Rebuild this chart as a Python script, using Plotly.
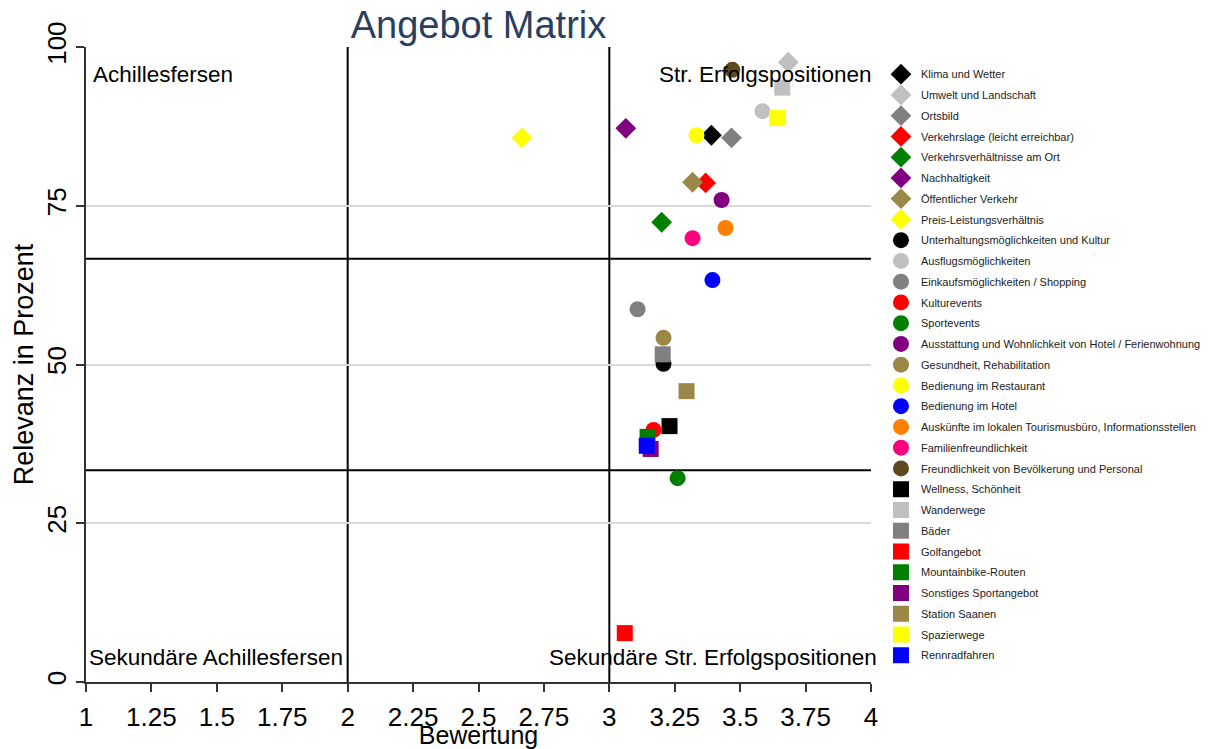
import plotly.graph_objects as go

names = [
    "Klima und Wetter", "Umwelt und Landschaft", "Ortsbild", "Verkehrslage (leicht erreichbar)",
    "Verkehrsverhältnisse am Ort", "Nachhaltigkeit", "Öffentlicher Verkehr", "Preis-Leistungsverhältnis",
    "Unterhaltungsmöglichkeiten und Kultur", "Ausflugsmöglichkeiten", "Einkaufsmöglichkeiten / Shopping",
    "Kulturevents", "Sportevents", "Ausstattung und Wohnlichkeit von Hotel / Ferienwohnung",
    "Gesundheit, Rehabilitation", "Bedienung im Restaurant", "Bedienung im Hotel",
    "Auskünfte im lokalen Tourismusbüro, Informationsstellen", "Familienfreundlichkeit",
    "Freundlichkeit von Bevölkerung und Personal", "Wellness, Schönheit", "Wanderwege", "Bäder",
    "Golfangebot", "Mountainbike-Routen", "Sonstiges Sportangebot", "Station Saanen", "Spazierwege",
    "Rennradfahren",
]
bewertung = [
    3.39, 3.684, 3.467, 3.368, 3.20, 3.063, 3.318, 2.666,
    3.207, 3.585, 3.108, 3.169, 3.261, 3.429, 3.207, 3.333, 3.394, 3.444, 3.318, 3.470,
    3.230, 3.661, 3.204, 3.059, 3.146, 3.158, 3.295, 3.642, 3.143,
]
relevanz = [
    86.1, 97.6, 85.7, 78.6, 72.4, 87.2, 78.7, 85.7,
    50.1, 89.9, 58.7, 39.7, 32.1, 75.9, 54.2, 86.1, 63.3, 71.5, 69.9, 96.4,
    40.3, 93.6, 51.6, 7.7, 38.6, 36.7, 45.8, 88.8, 37.2,
]
symbols = ["diamond"] * 8 + ["circle"] * 12 + ["square"] * 9
colors = [
    "#000000", "#c0c0c0", "#808080", "#ff0000", "#008000", "#800080", "#9b8747", "#ffff00",
    "#000000", "#c0c0c0", "#808080", "#ff0000", "#008000", "#800080", "#9b8747", "#ffff00",
    "#0000ff", "#ff7f00", "#ff007f", "#5a4a1e",
    "#000000", "#c0c0c0", "#808080", "#ff0000", "#008000", "#800080", "#9b8747", "#ffff00",
    "#0000ff",
]

x_ticks = [1, 1.25, 1.5, 1.75, 2, 2.25, 2.5, 2.75, 3, 3.25, 3.5, 3.75, 4]
y_ticks = [0, 25, 50, 75, 100]
x_split = [2, 3]
y_split = [100 / 3, 200 / 3]
# (text, x (paper), y (data), anchor)
quadrants = [
    ("Achillesfersen", 0.007, 95.7, "left"),
    ("Str. Erfolgspositionen", 1.004, 95.7, "right"),
    ("Sekundäre Achillesfersen", 0.001, 3.9, "left"),
    ("Sekundäre Str. Erfolgspositionen", 1.01, 3.9, "right"),
]

FONT = "Liberation Sans, Arial, sans-serif"

fig = go.Figure()
for i, n in enumerate(names):
    fig.add_trace(go.Scatter(
        x=[bewertung[i]], y=[relevanz[i]], mode="markers", name=n, legendgroup=n,
        marker=dict(symbol=symbols[i], size=16, color=colors[i], line=dict(width=0)),
    ))

for xv in x_split:
    fig.add_shape(type="line", x0=xv, x1=xv, y0=0, y1=100, xref="x", yref="y",
                  line=dict(color="black", width=2), layer="below")
for yv in y_split:
    fig.add_shape(type="line", x0=1, x1=4, y0=yv, y1=yv, xref="x", yref="y",
                  line=dict(color="black", width=2), layer="below")

for txt, xv, yv, anc in quadrants:
    fig.add_annotation(x=xv, y=yv, xref="paper", yref="y", text=txt, showarrow=False,
                       xanchor=anc, yanchor="middle",
                       font=dict(family=FONT, size=22.5, color="black"))

fig.update_layout(
    width=1210, height=741,
    margin=dict(l=78, r=343, t=39, b=67),
    paper_bgcolor="white", plot_bgcolor="white",
    font=dict(family=FONT, color="#2a3f5f"),
    title=dict(text="Angebot Matrix", x=0.5, xref="paper", y=0.977, yref="container",
               yanchor="middle", font=dict(family=FONT, size=38, color="#2a3f5f")),
    showlegend=True,
    legend=dict(x=1.0127, xanchor="left", y=0.98, yanchor="top", tracegroupgap=1.75,
                font=dict(family=FONT, size=11, color="#222222"), itemsizing="trace",
                bgcolor="rgba(0,0,0,0)"),
)
fig.update_xaxes(
    range=[1, 4], tickvals=x_ticks, ticktext=[f"{t:g}" for t in x_ticks],
    showgrid=False, zeroline=False, showline=True, linecolor="#333", linewidth=2,
    ticks="outside", ticklen=8, tickwidth=2, tickcolor="#333", automargin=False,
    ticklabelstandoff=3,
    tickfont=dict(family=FONT, size=26, color="black"),
    title=dict(text="Bewertung", font=dict(family=FONT, size=25, color="black"), standoff=1),
)
fig.update_yaxes(
    range=[0, 100], tickvals=y_ticks, tickangle=-90,
    showgrid=True, gridcolor="#d9d9d9", gridwidth=2, zeroline=False,
    showline=True, linecolor="#333", linewidth=2, automargin=False,
    ticks="outside", ticklen=8, tickwidth=2, tickcolor="#333",
    tickfont=dict(family=FONT, size=26, color="black"),
    title=dict(text="Relevanz in Prozent", font=dict(family=FONT, size=27, color="black"), standoff=0),
)

fig.write_html("out.html")
